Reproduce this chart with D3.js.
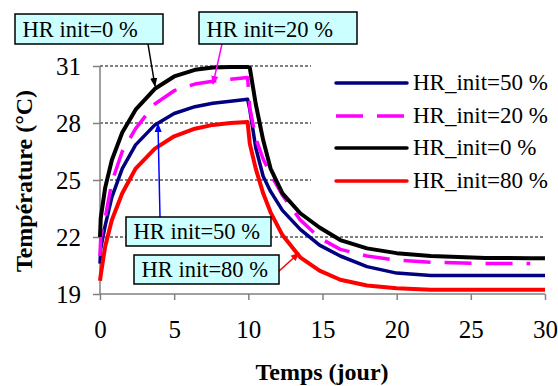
<!DOCTYPE html>
<html>
  <head>
    <meta charset="utf-8">
    <title>Temperature HR init</title>
    <script src="https://cdn.jsdelivr.net/npm/d3@7"></script>
    <style>
      body { margin: 0; background: #fff; }
    </style>
  </head>
  <body>
    <svg width="558" height="386" id="mainsvg"></svg>
    <script>
      // data
      const days = [0, 0.05, 0.35, 0.8, 1.5, 2.4, 3.7, 5, 6.4, 7.6, 8.8, 9.95, 10.1, 10.5, 11, 11.5, 12.3, 13.5, 14.8, 16.2, 18, 20, 22.3, 26, 29, 30];
      const hr50 = [20.6, 21.4, 22.6, 24.1, 25.6, 26.85, 27.9, 28.5, 28.86, 29.04, 29.15, 29.25, 28.7, 26.7, 25.2, 24.4, 23.4, 22.4, 21.57, 21.0, 20.44, 20.1, 19.97, 19.97, 19.97, 19.97];
      const hr20 = [21.0, 22.0, 23.0, 24.9, 26.5, 27.7, 29.0, 29.7, 30.05, 30.2, 30.3, 30.4, 28.8, 27.2, 26.1, 25.3, 24.2, 22.9, 21.95, 21.35, 21.0, 20.78, 20.67, 20.6, 20.6, null];
      const hr0 = [22.0, 23.0, 24.6, 26.05, 27.5, 28.7, 29.8, 30.45, 30.8, 30.92, 30.95, 30.95, 30.9, 29.0, 27.1, 25.6, 24.3, 23.25, 22.5, 21.84, 21.4, 21.15, 21.0, 20.9, 20.88, 20.88];
      const hr80 = [19.7, 20.0, 21.5, 22.9, 24.3, 25.6, 26.65, 27.3, 27.7, 27.9, 28.0, 28.05, 26.9, 25.6, 24.3, 23.3, 22.1, 20.93, 20.23, 19.75, 19.45, 19.3, 19.22, 19.22, 19.22, 19.22];
      const seriesNames = ['HR_init=50 %', 'HR_init=20 %', 'HR_init=0 %', 'HR_init=80 %'];
      const xTicks = [0, 5, 10, 15, 20, 25, 30];
      const yTicks = [19, 22, 25, 28, 31];

      const svg = d3.select('#mainsvg');
      const margin = {top: 66, left: 100};
      const innerWidth = 445;
      const innerHeight = 228;
      const font = "'Times', 'Tinos', serif";

      const xScale = d3.scaleLinear().domain([0, 30]).range([0, innerWidth]);
      const yScale = d3.scaleLinear().domain([19, 31]).range([innerHeight, 0]);

      const series = [
        {name: seriesNames[0], values: hr50, color: '#000080', width: 3.5, dash: null},
        {name: seriesNames[1], values: hr20, color: '#ff00ff', width: 3.5, dash: '27,14'},
        {name: seriesNames[2], values: hr0, color: '#000000', width: 4, dash: null},
        {name: seriesNames[3], values: hr80, color: '#ff0000', width: 4, dash: null},
      ];

      // arrow heads
      const defs = svg.append('defs');
      ['#000000', '#ff00ff', '#0000ff', '#ff0000'].forEach((c, i) => {
        defs.append('marker')
          .attr('id', 'arrow' + i)
          .attr('viewBox', '0 -5 10 10')
          .attr('refX', 9).attr('refY', 0)
          .attr('markerUnits', 'userSpaceOnUse')
          .attr('markerWidth', 9).attr('markerHeight', 9)
          .attr('orient', 'auto')
          .append('path').attr('d', 'M0,-4L10,0L0,4Z').attr('fill', c);
      });

      const g = svg.append('g')
        .attr('transform', `translate(${margin.left}, ${margin.top})`)
        .attr('id', 'maingroup');

      // grid lines
      g.selectAll('.grid').data(yTicks.filter(d => d > 19)).join('line')
        .attr('class', 'grid')
        .attr('x1', 0).attr('x2', innerWidth)
        .attr('y1', d => yScale(d)).attr('y2', d => yScale(d))
        .attr('stroke', '#000').attr('stroke-width', 1)
        .attr('stroke-dasharray', '3,2');

      const yAxis = d3.axisLeft(yScale).tickValues(yTicks).tickSize(7).tickPadding(12);
      const xAxis = d3.axisBottom(xScale).tickValues(xTicks).tickSize(6).tickPadding(20);

      const yAxisGroup = g.append('g').call(yAxis);
      const xAxisGroup = g.append('g').attr('transform', `translate(0, ${innerHeight})`).call(xAxis);
      [yAxisGroup, xAxisGroup].forEach(ag => {
        ag.select('.domain').attr('stroke', '#808080').attr('stroke-width', 1.5);
        ag.selectAll('.tick line').attr('stroke', '#808080').attr('stroke-width', 1.5);
        ag.selectAll('.tick text')
          .style('font-family', font).style('font-size', '25px')
          .attr('fill', '#000');
      });
      yAxisGroup.select('.domain').attr('d', `M0,0V${innerHeight}`);
      xAxisGroup.select('.domain').attr('d', `M0,0H${innerWidth}`);

      // curves
      const line = d3.line()
        .defined(d => d[1] != null)
        .x(d => xScale(d[0]))
        .y(d => yScale(d[1]));

      g.selectAll('.curve').data(series).join('path')
        .attr('class', 'curve')
        .attr('d', s => line(days.map((t, i) => [t, s.values[i]])))
        .attr('fill', 'none')
        .attr('stroke', s => s.color)
        .attr('stroke-width', s => s.width)
        .attr('stroke-dasharray', s => s.dash)
        .attr('stroke-linejoin', 'round');

      // legend
      const legend = svg.append('g');
      legend.append('rect')
        .attr('x', 311).attr('y', 58).attr('width', 247).attr('height', 136)
        .attr('fill', '#fff');
      const legendY = [83, 116, 148, 181];
      series.forEach((s, i) => {
        legend.append('line')
          .attr('x1', 336).attr('x2', 407)
          .attr('y1', legendY[i]).attr('y2', legendY[i])
          .attr('stroke', s.color).attr('stroke-width', 3.5)
          .attr('stroke-linecap', s.dash ? 'butt' : 'round')
          .attr('stroke-dasharray', s.dash);
        legend.append('text')
          .attr('x', 413).attr('y', legendY[i] + 7)
          .style('font-family', font).style('font-size', '23px')
          .text(s.name);
      });

      // annotation callouts
      const notes = [
        {text: 'HR init=0 %', box: [15, 14, 148, 30], arrow: [148, 44, 155, 86], marker: 0, stroke: '#000'},
        {text: 'HR init=20 %', box: [199, 12, 158, 32], arrow: [222, 44, 213, 84], marker: 1, stroke: '#ff00ff'},
        {text: 'HR init=50 %', box: [126, 217, 145, 29], arrow: [160, 217, 158, 124], marker: 2, stroke: '#0000ff'},
        {text: 'HR init=80 %', box: [134, 255, 145, 29], arrow: [278, 272, 299, 253], marker: 3, stroke: '#ff0000'},
      ];
      notes.forEach(n => {
        svg.append('line')
          .attr('x1', n.arrow[0]).attr('y1', n.arrow[1])
          .attr('x2', n.arrow[2]).attr('y2', n.arrow[3])
          .attr('stroke', n.stroke).attr('stroke-width', 1.5)
          .attr('marker-end', `url(#arrow${n.marker})`);
        svg.append('rect')
          .attr('x', n.box[0]).attr('y', n.box[1])
          .attr('width', n.box[2]).attr('height', n.box[3])
          .attr('fill', '#ccffff').attr('stroke', '#000').attr('stroke-width', 1.5);
        svg.append('text')
          .attr('x', n.box[0] + 7.5).attr('y', n.box[1] + n.box[3] - 7.5)
          .style('font-family', font).style('font-size', '22.5px')
          .text(n.text);
      });

      // axis titles
      svg.append('text')
        .attr('x', 322).attr('y', 380)
        .attr('text-anchor', 'middle')
        .style('font-family', font).style('font-size', '24px').style('font-weight', 'bold')
        .text('Temps (jour)');
      svg.append('text')
        .attr('transform', 'translate(32, 181) rotate(-90)')
        .attr('text-anchor', 'middle')
        .style('font-family', font).style('font-size', '24px').style('font-weight', 'bold')
        .text('Température (°C)');
    </script>
  </body>
</html>
